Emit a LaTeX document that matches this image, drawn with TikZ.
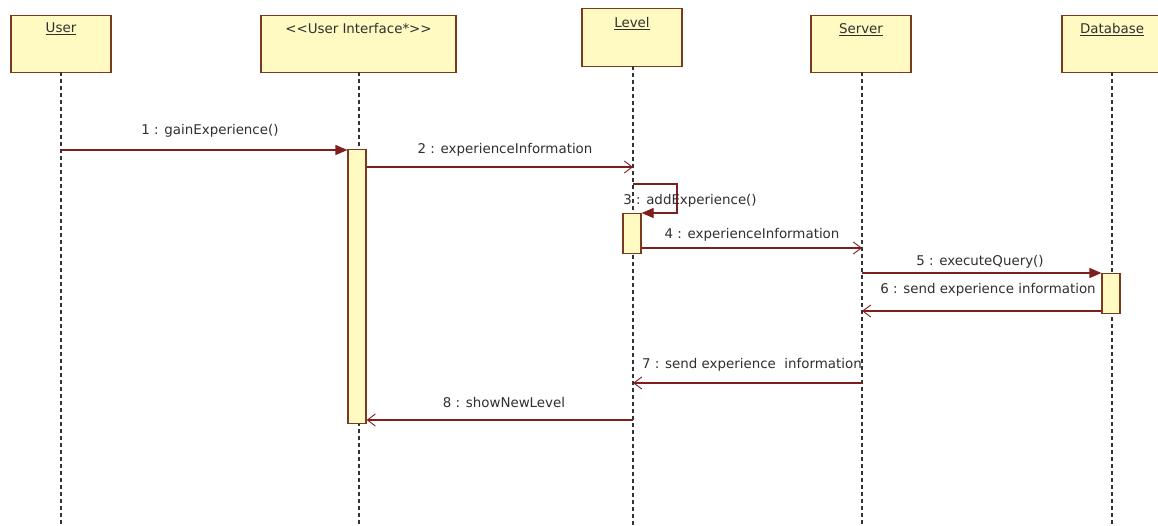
\documentclass[tikz,border=0pt]{standalone}
\usepackage{fontspec}
\setmainfont{DejaVu Sans}
\usetikzlibrary{arrows.meta}
\definecolor{boxfill}{HTML}{FFF9C2}
\definecolor{boxline}{HTML}{7A3A1E}
\definecolor{msgline}{HTML}{7E1E1E}
\definecolor{txt}{HTML}{303030}
\definecolor{lifeln}{HTML}{333333}
\begin{document}
\begin{tikzpicture}[x=1pt,y=-1pt,
  font=\fontsize{13.4}{15}\selectfont,
  obj/.style={draw=boxline, fill=boxfill, line width=1.3pt, inner sep=0pt,
              minimum height=57pt, anchor=north},
  objname/.style={text=txt, anchor=north, inner sep=0pt},
  actbar/.style={draw=boxline, fill=boxfill, line width=1.2pt, inner sep=0pt,
                 minimum width=18pt, anchor=north},
  life/.style={draw=lifeln, line width=1.1pt, dash pattern=on 4pt off 3pt},
  call/.style={draw=msgline, line width=1.2pt,
               -{Triangle[length=12pt,width=10pt,fill=msgline]}},
  reply/.style={draw=msgline, line width=1.2pt,
                -{Straight Barb[length=8pt,width=12pt,line width=0.9pt]}},
  msg/.style={text=txt, inner sep=0pt}]
\useasboundingbox (0,0) rectangle (1158,525);
\fill[white] (0,0) rectangle (1158,525);

% lifeline heads
\node[obj, minimum width=100pt] (user)   at (61,15)   {};
\node[obj, minimum width=195pt] (ui)     at (358.5,15){};
\node[obj, minimum width=100pt, minimum height=58pt] (level) at (632,8) {};
\node[obj, minimum width=100pt] (server) at (861,15)  {};
\node[obj, minimum width=100pt] (db)     at (1112,15) {};

\node[objname] (userlbl)   at (61,23)   {\underline{User}};
\node[objname] (uilbl)     at (358.5,23){<\kern0pt<User Interface*>\kern0pt>};
\node[objname] (levellbl)  at (632,17)  {\underline{Level}};
\node[objname] (serverlbl) at (861,23)  {\underline{Server}};
\node[objname] (dblbl)     at (1112,23) {\underline{Database}};

% lifelines
\coordinate (userend)   at (61,525);
\coordinate (uiend)     at (359,525);
\coordinate (levelend)  at (633,525);
\coordinate (serverend) at (862,525);
\coordinate (dbend)     at (1112,525);
\draw[life] (61,72)   -- (userend);
\draw[life] (359,72)  -- (uiend);
\draw[life] (633,66)  -- (levelend);
\draw[life] (862,72)  -- (serverend);
\draw[life] (1112,72) -- (dbend);

% activation bars
\node[actbar, minimum height=274pt] (uiact)    at (357,149) {};
\node[actbar, minimum height=40pt]  (levelact) at (632,213) {};
\node[actbar, minimum height=40pt]  (dbact)    at (1111,273) {};

% message anchor points on the lifelines
\coordinate (m1s) at (61,150);
\coordinate (m2e) at (633,167);
\coordinate (m3s) at (633,184);
\coordinate (m3a) at (677,184);
\coordinate (m3b) at (677,213);
\coordinate (m4e) at (862,248);
\coordinate (m5s) at (862,273);
\coordinate (m6e) at (862,311);
\coordinate (m7s) at (862,383);
\coordinate (m7e) at (633,383);
\coordinate (m8s) at (633,420);

% messages
\draw[call]  (m1s) -- (uiact.north west |- m1s);
\draw[reply] (uiact.east |- m2e) -- (m2e);
\draw[call]  (m3s) -- (m3a) -- (m3b) -- (levelact.north east |- m3b);
\draw[reply] (levelact.east |- m4e) -- (m4e);
\draw[call]  (m5s) -- (dbact.north west |- m5s);
\draw[reply] (dbact.west |- m6e) -- (m6e);
\draw[reply] (m7s) -- (m7e);
\draw[reply] (m8s) -- (uiact.east |- m8s);

% message labels
\node[msg] (l1) at (210,131) {1 : gainExperience()};
\node[msg] (l2) at (505,150) {2 : experienceInformation};
\node[msg] (l3) at (690,201) {3 : addExperience()};
\node[msg] (l4) at (752,235) {4 : experienceInformation};
\node[msg] (l5) at (980,262) {5 : executeQuery()};
\node[msg] (l6) at (988,290) {6 : send experience information};
\node[msg] (l7) at (752,365) {7 : send experience\ \ information};
\node[msg] (l8) at (504,402) {8 : showNewLevel};
\end{tikzpicture}
\end{document}
